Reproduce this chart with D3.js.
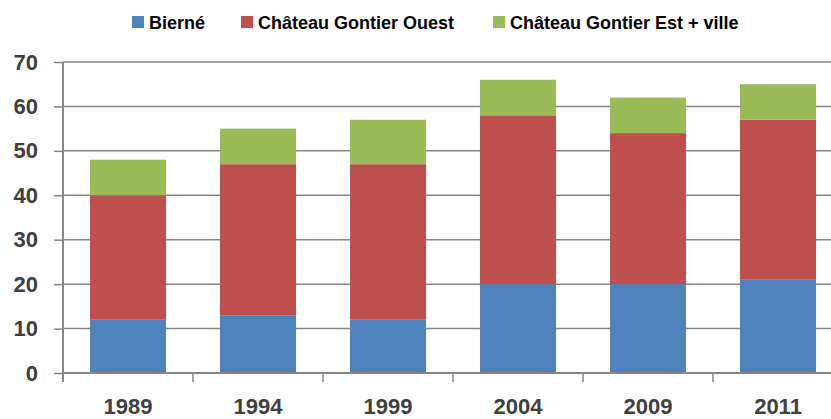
<!DOCTYPE html>
<html>
<head>
<meta charset="utf-8">
<script src="https://cdn.jsdelivr.net/npm/d3@7"></script>
<style>
  body { margin: 0; background: #fff; }
  svg { display: block; }
</style>
</head>
<body>
<div id="chart"></div>
<script>
// Chart data
var years = ["1989", "1994", "1999", "2004", "2009", "2011"];
var seriesNames = ["Bierné", "Château Gontier Ouest", "Château Gontier Est + ville"];
var bierne = [12, 13, 12, 20, 20, 21];
var ouest = [28, 34, 35, 38, 34, 36];
var est = [8, 8, 10, 8, 8, 8];
var yTicks = [0, 10, 20, 30, 40, 50, 60, 70];

var colors = ["#4f81bd", "#c0504d", "#9bbb59"];

// SVG area dimensions
var svgWidth = 831;
var svgHeight = 419;

// the plot runs off the right edge in the reference
var chartMargin = { top: 62, left: 63, bottom: 46 };
var chartWidth = 780;
var chartHeight = svgHeight - chartMargin.top - chartMargin.bottom;

var svg = d3.select("#chart")
  .append("svg")
  .attr("width", svgWidth)
  .attr("height", svgHeight);

var chartGroup = svg.append("g")
  .attr("transform", `translate(${chartMargin.left}, ${chartMargin.top})`);

// Build rows for the stack
var rows = years.map(function(y, i) {
  return { year: y, s0: bierne[i], s1: ouest[i], s2: est[i] };
});
var stacked = d3.stack().keys(["s0", "s1", "s2"])(rows);

var xBandScale = d3.scaleBand()
  .domain(years)
  .range([0, chartWidth])
  .paddingInner(0.415)
  .paddingOuter(0.2075);

var yLinearScale = d3.scaleLinear()
  .domain([0, 70])
  .range([chartHeight, 0]);

// gridlines
chartGroup.selectAll(".grid")
  .data(yTicks.slice(1))
  .enter()
  .append("line")
  .attr("x1", 0)
  .attr("x2", chartWidth)
  .attr("y1", d => yLinearScale(d))
  .attr("y2", d => yLinearScale(d))
  .attr("stroke", "#868686")
  .attr("stroke-width", 1.5);

// bars
chartGroup.selectAll(".layer")
  .data(stacked)
  .enter()
  .append("g")
  .attr("fill", (d, i) => colors[i])
  .selectAll("rect")
  .data(d => d)
  .enter()
  .append("rect")
  .attr("x", d => xBandScale(d.data.year))
  .attr("y", d => yLinearScale(d[1]))
  .attr("width", xBandScale.bandwidth())
  .attr("height", d => yLinearScale(d[0]) - yLinearScale(d[1]));

// left axis
var leftAxis = d3.axisLeft(yLinearScale)
  .tickValues(yTicks)
  .tickSize(9)
  .tickPadding(16);

var yAxisG = chartGroup.append("g").call(leftAxis);
yAxisG.select(".domain").attr("stroke", "#868686").attr("stroke-width", 2)
  .attr("d", `M0,${chartHeight + 9}V0`);
yAxisG.selectAll(".tick line").attr("stroke", "#868686").attr("stroke-width", 1.5);
yAxisG.selectAll(".tick text")
  .attr("fill", "#404040")
  .style("font-family", "Liberation Sans, Arial, sans-serif")
  .style("font-weight", "bold")
  .style("font-size", "22px");

// bottom axis: ticks between categories
var bottomAxis = d3.axisBottom(xBandScale)
  .tickSize(0)
  .tickPadding(25);

var xAxisG = chartGroup.append("g")
  .attr("transform", `translate(0, ${chartHeight})`)
  .call(bottomAxis);
xAxisG.select(".domain").attr("stroke", "#868686").attr("stroke-width", 2)
  .attr("d", `M0,0H${chartWidth}`);
xAxisG.selectAll(".tick text")
  .attr("fill", "#404040")
  .style("font-family", "Liberation Sans, Arial, sans-serif")
  .style("font-weight", "bold")
  .style("font-size", "22px");

// separator ticks between the categories
chartGroup.selectAll(".sep")
  .data(years)
  .enter()
  .append("line")
  .attr("x1", d => xBandScale(d) - xBandScale.step() * xBandScale.paddingOuter())
  .attr("x2", d => xBandScale(d) - xBandScale.step() * xBandScale.paddingOuter())
  .attr("y1", chartHeight)
  .attr("y2", chartHeight + 9)
  .attr("stroke", "#868686")
  .attr("stroke-width", 1.5);

// legend
var legendX = [132, 241, 493];
var legend = svg.append("g");
var item = legend.selectAll(".item")
  .data(seriesNames)
  .enter()
  .append("g")
  .attr("transform", (d, i) => `translate(${legendX[i]}, 16)`);
item.append("rect")
  .attr("width", 12)
  .attr("height", 12)
  .attr("fill", (d, i) => colors[i]);
item.append("text")
  .attr("x", 17)
  .attr("y", 12.5)
  .text(d => d)
  .attr("fill", "#000")
  .style("font-family", "Liberation Sans, Arial, sans-serif")
  .style("font-weight", "bold")
  .style("font-size", "18px");
</script>
</body>
</html>
